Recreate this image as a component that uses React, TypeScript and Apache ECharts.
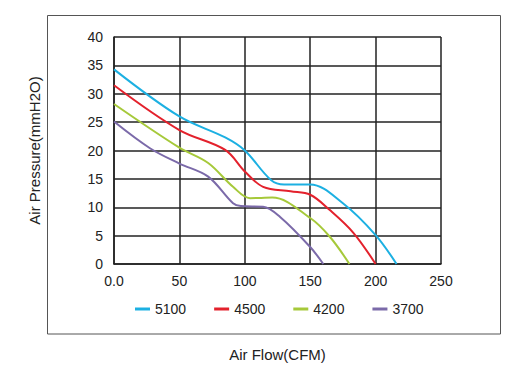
import React, { useEffect, useRef } from "react";
import * as echarts from "echarts";

const seriesNames = ["5100", "4500", "4200", "3700"];
const colors = ["#1cb0e2", "#e3212c", "#a6c93a", "#7b6aa9"];

const s5100: [number, number][] = [
  [0, 34.3], [50, 26.0], [85, 22.3], [100, 20.0],
  [120, 14.8], [130, 14.0], [150, 14.0], [175, 10.7],
  [200, 5.1], [216, 0],
];
const s4500: [number, number][] = [
  [0, 31.5], [50, 23.6], [85, 20.1], [100, 16.3], [114, 13.6],
  [135, 12.8], [150, 12.2], [165, 9.5], [183, 5.5], [200, 0],
];
const s4200: [number, number][] = [
  [0, 28.2], [50, 20.5], [72, 17.8], [91, 13.6], [104, 11.6],
  [121, 11.7], [150, 8.1], [165, 4.8], [180, 0],
];
const s3700: [number, number][] = [
  [0, 25.1], [27.5, 20.4], [50, 17.7], [72, 15.4], [91, 10.7], [97, 10.2],
  [114, 10.1], [127, 8.3], [150, 3.0], [160, 0],
];
const allSeries = [s5100, s4500, s4200, s3700];

const xTicks = [0, 50, 100, 150, 200, 250];
const yTicks = [0, 5, 10, 15, 20, 25, 30, 35, 40];

export default function App() {
  const ref = useRef<HTMLDivElement>(null);
  useEffect(() => {
    if (!ref.current) return;
    const chart = echarts.init(ref.current, null, { renderer: "svg" });
    const font = "Liberation Sans, Arial, sans-serif";
    chart.setOption({
      animation: false,
      backgroundColor: "#ffffff",
      textStyle: { fontFamily: font },
      grid: { left: 114, top: 37, right: 71, bottom: 113 },
      xAxis: {
        type: "value",
        min: xTicks[0],
        max: xTicks[xTicks.length - 1],
        interval: 50,
        name: "Air Flow(CFM)",
        nameLocation: "middle",
        nameGap: 83,
        nameTextStyle: { fontSize: 15, color: "#222", fontFamily: font },
        axisLine: { show: true, lineStyle: { color: "#222", width: 1.5 } },
        axisTick: { show: false },
        splitLine: { show: true, lineStyle: { color: "#222", width: 1.5 } },
        axisLabel: {
          color: "#222",
          fontSize: 14,
          margin: 10,
          fontFamily: font,
          formatter: (v: number) => (v === 0 ? "0.0" : String(v)),
        },
      },
      yAxis: {
        type: "value",
        min: yTicks[0],
        max: yTicks[yTicks.length - 1],
        interval: 5,
        name: "Air Pressure(mmH2O)",
        nameLocation: "middle",
        nameGap: 72,
        nameTextStyle: { fontSize: 15, color: "#222", fontFamily: font },
        axisLine: { show: true, lineStyle: { color: "#222", width: 1.5 } },
        axisTick: { show: false },
        splitLine: { show: true, lineStyle: { color: "#222", width: 1.5 } },
        axisLabel: { color: "#222", fontSize: 14, margin: 11, fontFamily: font },
      },
      legend: {
        left: 135,
        top: 302,
        padding: 0,
        icon: "rect",
        itemWidth: 15,
        itemHeight: 3,
        itemGap: 28,
        textStyle: { fontSize: 14, color: "#222", fontFamily: font },
        data: seriesNames,
      },
      graphic: [
        {
          type: "rect",
          shape: { x: 47.5, y: 15.5, width: 453, height: 318.5 },
          style: { fill: "none", stroke: "#555", lineWidth: 1 },
          silent: true,
        },
      ],
      series: seriesNames.map((n, i) => ({
        name: n,
        type: "line",
        data: allSeries[i],
        smooth: 0.35,
        showSymbol: false,
        symbol: "none",
        lineStyle: { color: colors[i], width: 2 },
        itemStyle: { color: colors[i] },
      })),
    });
    return () => chart.dispose();
  }, []);
  return (
    <div
      ref={ref}
      style={{ position: "fixed", left: 0, top: 0, width: 512, height: 377 }}
    />
  );
}
